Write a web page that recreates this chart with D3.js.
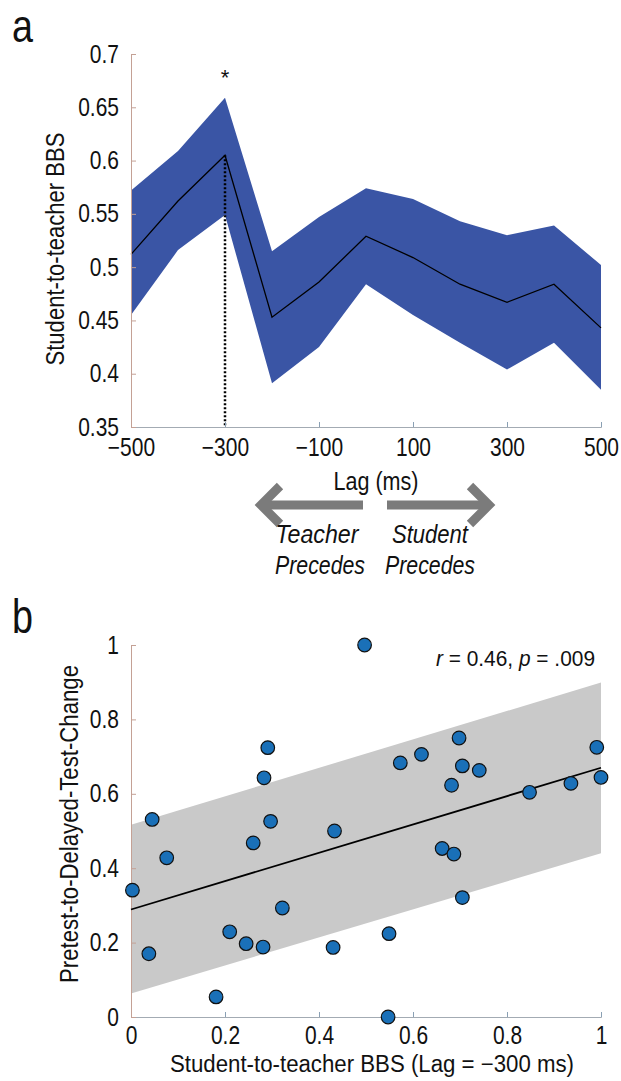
<!DOCTYPE html>
<html>
<head>
<meta charset="utf-8">
<title>Student-to-teacher BBS</title>
<style>
  body { margin: 0; background: #fff; }
  svg text { font-family: "Liberation Sans", Arial, sans-serif; fill: #111; }
</style>
</head>
<body>
<svg width="621" height="1081"></svg>
<script src="https://d3js.org/d3.v7.min.js"></script>
<script>
// panel a: lag curve
const lags = [-500, -400, -300, -200, -100, 0, 100, 200, 300, 400, 500];
const bbsMean  = [0.512, 0.562, 0.605, 0.453, 0.486, 0.529, 0.509, 0.484, 0.467, 0.484, 0.443];
const bbsUpper = [0.572, 0.609, 0.659, 0.515, 0.547, 0.574, 0.564, 0.543, 0.530, 0.539, 0.502];
const bbsLower = [0.455, 0.516, 0.549, 0.391, 0.425, 0.484, 0.455, 0.429, 0.404, 0.429, 0.385];
const lagTicks = [-500, -300, -100, 100, 300, 500];
const bbsTicks = [0.35, 0.4, 0.45, 0.5, 0.55, 0.6, 0.65, 0.7];
const peakLag = -300;

// panel b: scatter
const bbsAtPeak = [0.497, 0.003, 0.045, 0.076, 0.038, 0.181, 0.21, 0.245, 0.281, 0.26, 0.291,
  0.283, 0.297, 0.322, 0.433, 0.43, 0.549, 0.547, 0.573, 0.618, 0.662, 0.687, 0.682, 0.698,
  0.705, 0.741, 0.705, 0.848, 0.936, 0.991, 1.0];
const testChange = [1.0, 0.341, 0.531, 0.428, 0.17, 0.054, 0.229, 0.197, 0.188, 0.468, 0.724,
  0.643, 0.526, 0.293, 0.5, 0.187, 0.224, 0.0, 0.683, 0.706, 0.453, 0.438, 0.623, 0.75,
  0.675, 0.663, 0.321, 0.604, 0.628, 0.725, 0.644];
const fitX = [0, 1];
const fitY = [0.289, 0.670];
const fitUpper = [0.517, 0.899];
const fitLower = [0.063, 0.440];
const scatterTicks = [0, 0.2, 0.4, 0.6, 0.8, 1];

const svg = d3.select("svg");
const yAxisColor = "#c4a195", xAxisColor = "#a3abb3";
const minus = s => s.replace("-", "\u2212");

// text helper: squeeze text to the width it has in the figure
function label(g, str, x, y, size, width, opts = {}) {
  const t = g.append("text")
    .attr("x", x).attr("y", y)
    .attr("font-size", size)
    .attr("text-anchor", opts.anchor || "middle")
    .attr("textLength", width).attr("lengthAdjust", "spacingAndGlyphs")
    .text(str);
  if (opts.italic) t.attr("font-style", "italic");
  if (opts.rotate) t.attr("transform", `rotate(-90,${x},${y})`);
  return t;
}

const tickScale = 0.84;
function styleAxis(ax, lineColor, tickColor, left) {
  ax.select(".domain").attr("stroke", lineColor);
  ax.selectAll(".tick line").attr("stroke", tickColor);
  ax.selectAll(".tick text").attr("font-size", 25).each(function () {
    const t = d3.select(this);
    if (left) t.attr("x", -12 / tickScale);
    t.attr("transform", `scale(${tickScale},1)`);
  });
}

// ---------- panel a ----------
const xa = d3.scaleLinear().domain([-500, 500]).range([131, 601]);
const ya = d3.scaleLinear().domain([0.35, 0.7]).range([427, 54]);
const ga = svg.append("g");

ga.append("path")
  .datum(lags.map((l, i) => i))
  .attr("fill", "#3a55a5")
  .attr("d", d3.area().x(i => xa(lags[i])).y0(i => ya(bbsLower[i])).y1(i => ya(bbsUpper[i])));

ga.append("path")
  .datum(lags.map((l, i) => i))
  .attr("fill", "none").attr("stroke", "#000").attr("stroke-width", 1.3)
  .attr("d", d3.line().x(i => xa(lags[i])).y(i => ya(bbsMean[i])));

ga.append("line")
  .attr("x1", xa(peakLag)).attr("x2", xa(peakLag))
  .attr("y1", ya(bbsMean[lags.indexOf(peakLag)])).attr("y2", ya(0.35))
  .attr("stroke", "#000").attr("stroke-width", 2.5).attr("stroke-dasharray", "2,2");

ga.append("text").attr("x", xa(peakLag)).attr("y", ya(0.671))
  .attr("text-anchor", "middle").attr("font-size", 22).text("*");

const axA = ga.append("g").attr("transform", "translate(0,427)")
  .call(d3.axisBottom(xa).tickValues(lagTicks).tickSize(-5).tickPadding(10).tickFormat(d => minus(String(d))));
styleAxis(axA, xAxisColor, "#8aa0b4", false);
axA.selectAll(".tick text").attr("dy", "0.75em");

const ayA = ga.append("g").attr("transform", "translate(131,0)")
  .call(d3.axisLeft(ya).tickValues(bbsTicks).tickSize(-5).tickFormat(d => String(+d.toFixed(2))));
styleAxis(ayA, yAxisColor, yAxisColor, true);

label(ga, "Student-to-teacher BBS", 64, 249, 26, 233, { rotate: true });
label(ga, "a", 12, 42, 46, 21, { anchor: "start" });
label(ga, "Lag (ms)", 376, 490, 26, 85);

// direction arrows
function arrow(x0, x1, y) {
  const dir = Math.sign(x1 - x0);
  const head = 19;
  ga.append("line").attr("x1", x0).attr("x2", x1 - dir * 6).attr("y1", y).attr("y2", y)
    .attr("stroke", "#7b7b7b").attr("stroke-width", 9);
  ga.append("path")
    .attr("d", `M${x1 - dir * head},${y - head} L${x1},${y} L${x1 - dir * head},${y + head}`)
    .attr("fill", "none").attr("stroke", "#7b7b7b").attr("stroke-width", 9).attr("stroke-linejoin", "miter");
}
arrow(363, 261, 505);
arrow(387, 489, 505);

label(ga, "Teacher", 317, 543, 26, 83, { italic: true });
label(ga, "Precedes", 320, 574, 26, 90, { italic: true });
label(ga, "Student", 430, 543, 26, 76, { italic: true });
label(ga, "Precedes", 430, 574, 26, 90, { italic: true });

// ---------- panel b ----------
const xb = d3.scaleLinear().domain([0, 1]).range([131, 601]);
const yb = d3.scaleLinear().domain([0, 1]).range([1017, 645]);
const gb = svg.append("g");

gb.append("path")
  .datum([0, 1])
  .attr("fill", "#c9c9c9")
  .attr("d", d3.area().x(i => xb(fitX[i])).y0(i => yb(fitLower[i])).y1(i => yb(fitUpper[i])));

const axB = gb.append("g").attr("transform", "translate(0,1017)")
  .call(d3.axisBottom(xb).tickValues(scatterTicks).tickSize(-5).tickPadding(8).tickFormat(d => String(d)));
styleAxis(axB, xAxisColor, "#8aa0b4", false);
axB.selectAll(".tick text").attr("dy", "0.75em");

const ayB = gb.append("g").attr("transform", "translate(131,0)")
  .call(d3.axisLeft(yb).tickValues(scatterTicks).tickSize(-5).tickFormat(d => String(d)));
styleAxis(ayB, yAxisColor, yAxisColor, true);

gb.append("line")
  .attr("x1", xb(fitX[0])).attr("y1", yb(fitY[0]))
  .attr("x2", xb(fitX[1])).attr("y2", yb(fitY[1]))
  .attr("stroke", "#000").attr("stroke-width", 1.8);

gb.selectAll("circle.pt")
  .data(bbsAtPeak.map((x, i) => [x, testChange[i]]))
  .enter().append("circle")
  .attr("class", "pt")
  .attr("cx", d => xb(d[0])).attr("cy", d => yb(d[1]))
  .attr("r", 6.8)
  .attr("fill", "#1a70b8").attr("stroke", "#111").attr("stroke-width", 1.2);

const stat = gb.append("text").attr("x", 595).attr("y", 666).attr("text-anchor", "end").attr("font-size", 22)
  .attr("transform", "translate(595,0) scale(0.95,1) translate(-595,0)");
stat.append("tspan").attr("font-style", "italic").text("r");
stat.append("tspan").text(" = 0.46, ");
stat.append("tspan").attr("font-style", "italic").text("p");
stat.append("tspan").text(" = .009");

label(gb, "Pretest-to-Delayed-Test-Change", 78, 824, 26, 318, { rotate: true });
label(gb, "Student-to-teacher BBS (Lag = \u2212300 ms)", 372, 1072, 23, 404);
label(gb, "b", 12, 633, 48, 21, { anchor: "start" });
</script>
</body>
</html>
